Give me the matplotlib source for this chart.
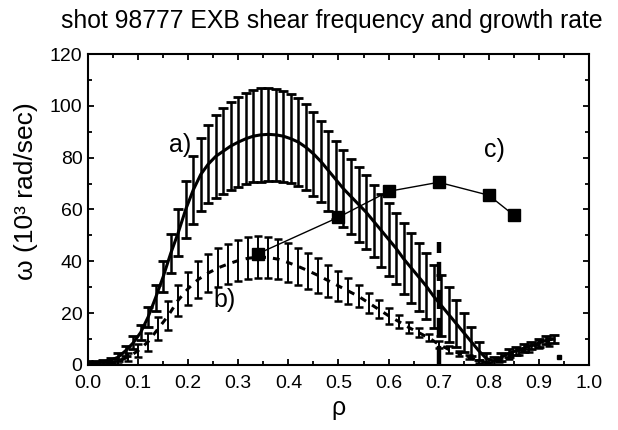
import matplotlib
matplotlib.use("Agg")
import matplotlib.pyplot as plt
from matplotlib.ticker import MultipleLocator

plt.rcParams['font.family'] = ['Liberation Sans', 'DejaVu Sans']

# a) EXB shear frequency with errors
rho_a = [0.000, 0.015, 0.030, 0.045, 0.060, 0.075, 0.090, 0.105, 0.120, 0.135,
         0.150, 0.165, 0.180, 0.195, 0.210, 0.225, 0.240, 0.255, 0.270, 0.285,
         0.300, 0.315, 0.330, 0.345, 0.360, 0.375, 0.390, 0.405, 0.420, 0.435,
         0.450, 0.465, 0.480, 0.495, 0.510, 0.525, 0.540, 0.555, 0.570, 0.585,
         0.600, 0.615, 0.630, 0.645, 0.660, 0.675, 0.690, 0.705, 0.720, 0.735,
         0.750, 0.765, 0.780, 0.795, 0.810, 0.825, 0.840, 0.855, 0.870, 0.885,
         0.900, 0.915, 0.930]
omega_a = [1.0, 1.0, 1.2, 1.8, 3.0, 5.5, 8.5, 12.5, 18.5, 26.0,
           34.0, 43.0, 51.0, 60.0, 67.5, 73.5, 77.5, 80.5, 82.5, 84.5,
           86.0, 87.3, 88.3, 88.8, 89.0, 88.8, 88.3, 87.3, 86.0, 84.0,
           81.5, 78.5, 75.0, 71.5, 68.0, 65.0, 62.0, 59.0, 55.5, 52.0,
           48.5, 45.0, 41.0, 37.5, 34.0, 30.5, 26.5, 23.0, 19.5, 16.0,
           12.5, 9.0, 5.5, 2.5, 1.5, 3.0, 4.5, 5.5, 6.5, 7.5,
           8.5, 9.5, 10.0]
err_a = [0.5, 0.5, 0.8, 1.0, 1.5, 2.0, 2.5, 3.0, 4.0, 5.0,
         6.0, 7.5, 9.0, 11.0, 13.0, 14.0, 15.0, 16.0, 16.5, 17.0,
         17.3, 17.6, 17.8, 18.0, 18.0, 17.8, 17.5, 17.2, 17.0, 16.6,
         16.2, 15.8, 15.4, 15.0, 14.8, 14.6, 14.4, 14.2, 14.0, 14.0,
         14.0, 13.8, 13.6, 13.4, 13.0, 12.6, 12.2, 11.8, 10.5, 9.0,
         7.5, 5.5, 3.5, 2.0, 1.5, 1.5, 1.5, 1.5, 1.5, 1.5,
         1.5, 1.5, 1.5]

# b) growth rate with errors
rho_b = [0.04, 0.06, 0.08, 0.10, 0.12, 0.14, 0.16, 0.18, 0.20, 0.22,
         0.24, 0.26, 0.28, 0.30, 0.32, 0.34, 0.36, 0.38, 0.40, 0.42,
         0.44, 0.46, 0.48, 0.50, 0.52, 0.54, 0.56, 0.58, 0.60, 0.62,
         0.64, 0.66, 0.68, 0.70, 0.72, 0.74, 0.76, 0.78, 0.80, 0.82,
         0.84, 0.86, 0.88, 0.90, 0.92]
omega_b = [0.5, 1.5, 3.0, 5.5, 9.0, 14.0, 19.0, 25.0, 29.5, 33.0,
           35.5, 37.5, 39.0, 40.3, 41.2, 41.6, 41.5, 40.8, 39.5, 38.0,
           36.3, 34.5, 32.5, 30.5, 28.5, 26.5, 24.0, 21.5, 19.0, 16.8,
           14.5, 12.5, 10.5, 8.0, 6.0, 4.5, 3.0, 1.5, 0.8, 2.0,
           3.5, 5.0, 6.5, 8.0, 9.0]
err_b = [0.5, 1.0, 1.5, 2.5, 3.5, 4.5, 5.5, 6.0, 6.5, 7.0,
         7.3, 7.6, 7.8, 8.0, 8.0, 8.0, 8.0, 7.8, 7.6, 7.3,
         7.0, 6.6, 6.2, 5.8, 5.0, 4.2, 3.8, 3.4, 3.0, 2.5,
         2.0, 1.6, 1.4, 1.3, 1.2, 1.0, 0.8, 0.6, 0.5, 0.8,
         1.0, 1.2, 1.4, 1.6, 1.6]
stray_rho = [0.940]
stray_omega = [3.0]

# c) points
rho_c = [0.34, 0.50, 0.60, 0.70, 0.80, 0.85]
omega_c = [43.0, 57.0, 67.0, 70.5, 65.5, 57.8]

sep_rho = 0.70
sep_top = 47.5

fig = plt.figure(figsize=(6.18, 4.30), dpi=100)
ax = fig.add_axes([0.1424, 0.1512, 0.8106, 0.7232])

ax.errorbar(rho_a, omega_a, yerr=err_a, fmt='none', ecolor='black',
            elinewidth=1.8, capsize=3.5, capthick=2.0)
ax.plot(rho_a, omega_a, color='black', lw=2.2)

ax.errorbar(rho_b, omega_b, yerr=err_b, fmt='none', ecolor='black',
            elinewidth=1.4, capsize=3.2, capthick=1.8)
ax.plot(rho_b, omega_b, color='black', lw=2.2, linestyle=(0, (2.2, 2.3)))
ax.plot(stray_rho, stray_omega, marker='s', ms=3.5, color='black', ls='none')

ax.plot(rho_c, omega_c, color='black', lw=1.0, marker='s', ms=8, zorder=4)

ax.plot([sep_rho, sep_rho], [0, sep_top], color='black', lw=3.2,
        linestyle=(0, (4.3, 2.0)), zorder=5)

ax.text(0.184, 85, 'a)', fontsize=18, ha='center', va='center')
ax.text(0.272, 25, 'b)', fontsize=18, ha='center', va='center')
ax.text(0.812, 83, 'c)', fontsize=18, ha='center', va='center')

ax.set_xlim(0.0, 1.0)
ax.set_ylim(0, 120)
ax.xaxis.set_major_locator(MultipleLocator(0.1))
ax.xaxis.set_minor_locator(MultipleLocator(0.05))
ax.yaxis.set_major_locator(MultipleLocator(20))
ax.yaxis.set_minor_locator(MultipleLocator(10))
ax.tick_params(which='both', direction='in', top=True, right=True,
               width=1.3, labelsize=14)
ax.tick_params(which='major', length=4.5)
ax.tick_params(which='minor', length=3)
ax.tick_params(axis='x', which='major', pad=7)
ax.tick_params(axis='y', which='major', pad=4)
ax.set_xticklabels([f'{v:.1f}' for v in ax.get_xticks()])
for s in ax.spines.values():
    s.set_linewidth(1.5)

ax.set_xlabel('ρ', fontsize=18, labelpad=3)
ax.set_ylabel('ω (10³ rad/sec)', fontsize=19)
ax.yaxis.set_label_coords(-0.1, 0.56)
ax.set_title('shot 98777 EXB shear frequency and growth rate',
             fontsize=17.8, pad=19, x=0.486)

fig.savefig('out.png', dpi=100)
